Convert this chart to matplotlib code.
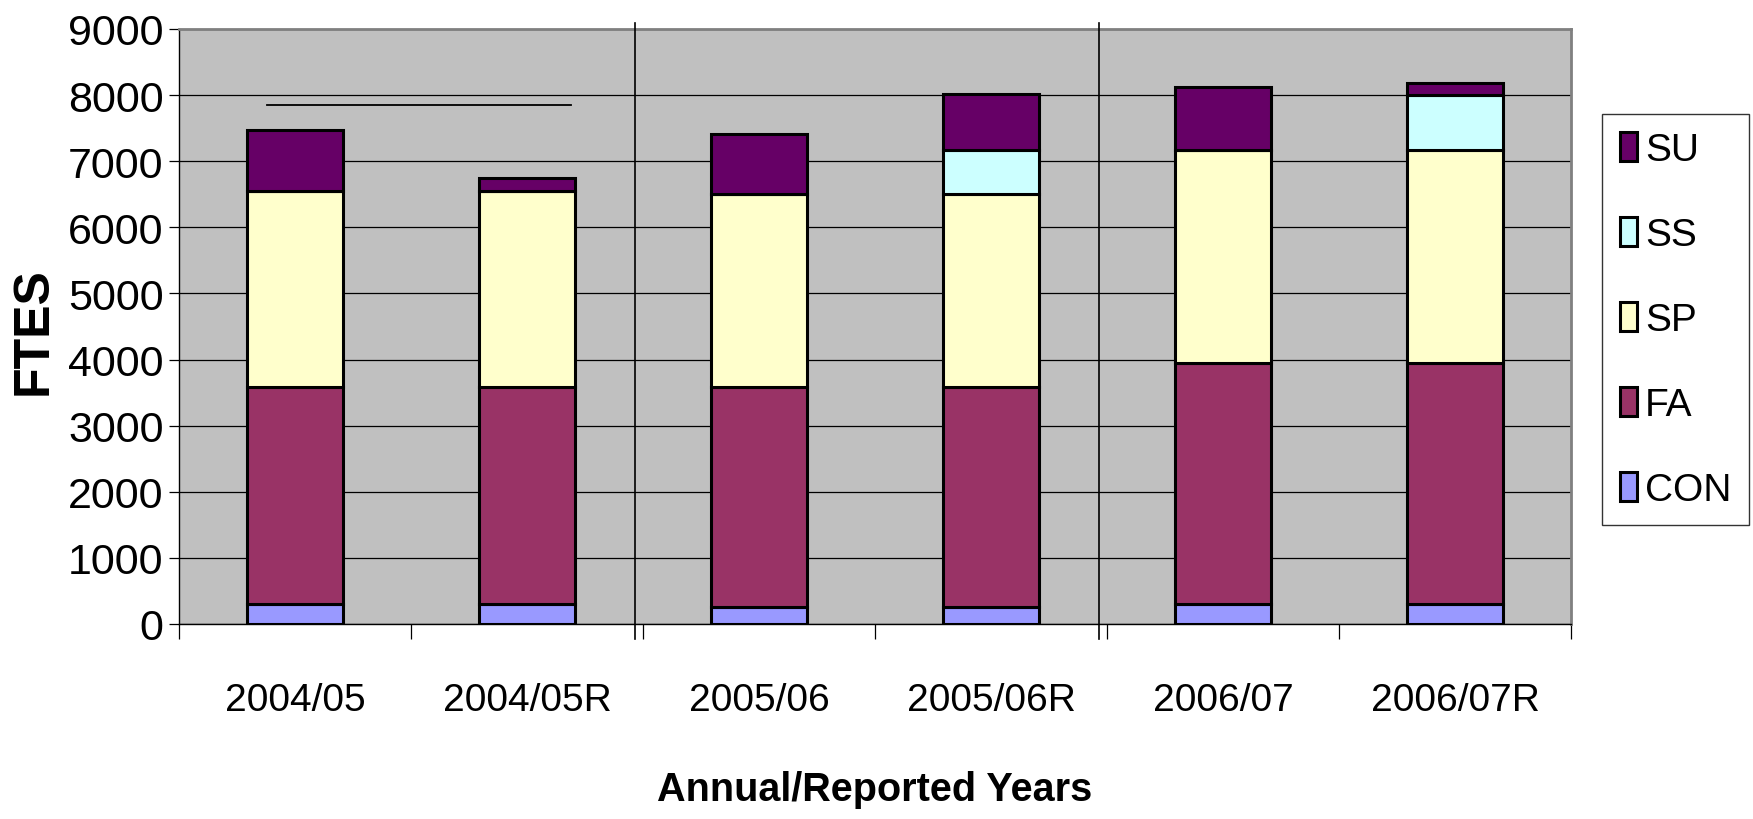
import matplotlib
matplotlib.use('Agg')
import matplotlib.pyplot as plt
import numpy as np

categories = ['2004/05', '2004/05R', '2005/06', '2005/06R', '2006/07', '2006/07R']
con = [300, 300, 250, 250, 300, 300]
fa = [3280, 3280, 3330, 3330, 3650, 3650]
sp = [2970, 2970, 2925, 2925, 3225, 3225]
ss = [0, 0, 0, 670, 0, 825]
su = [925, 195, 900, 835, 950, 180]

series = [('CON', con, '#9999FF'), ('FA', fa, '#993366'), ('SP', sp, '#FFFFCC'),
          ('SS', ss, '#CCFFFF'), ('SU', su, '#660066')]

plt.rcParams['font.family'] = ['Liberation Sans', 'DejaVu Sans']

W, H = 1753, 820
fig = plt.figure(figsize=(W / 100, H / 100), dpi=100)
ax = fig.add_axes([179 / W, 1 - 625 / H, (1571 - 179) / W, (625 - 30) / H])
ax.set_facecolor('#C0C0C0')

x = np.arange(len(categories))
bottom = np.zeros(len(categories))
handles = {}
for name, vals, col in series:
    b = ax.bar(x, vals, 0.41, bottom=bottom, color=col, edgecolor='black',
               linewidth=2.2, label=name, zorder=3)
    handles[name] = b
    bottom += np.array(vals)

ax.set_xlim(-0.5, len(categories) - 0.5)
ax.set_ylim(0, 9000)
ax.set_yticks(np.arange(0, 9001, 1000))
ax.yaxis.grid(True, color='black', linewidth=0.9, zorder=1)
ax.set_axisbelow(True)

ax.set_xticks(x)
ax.set_xticklabels(categories, fontsize=28)
ax.set_xticks(np.arange(-0.5, len(categories), 1), minor=True)
ax.tick_params(axis='x', which='major', length=0, pad=42)
ax.tick_params(axis='x', which='minor', length=11, width=0.9, direction='out')
ax.tick_params(axis='y', labelsize=31, length=7, width=0.9, pad=4)

for s in ['top', 'right']:
    ax.spines[s].set_color('#808080')
    ax.spines[s].set_linewidth(2)
for s in ['left', 'bottom']:
    ax.spines[s].set_color('black')
    ax.spines[s].set_linewidth(1)

# divider lines between year groups and the reference line
for xv in [1.466, 3.466]:
    ax.axvline(xv, ymin=-0.025, ymax=1.01, color='black', linewidth=1.2,
               clip_on=False, zorder=4)
ax.plot([-0.12, 1.19], [7850, 7850], color='black', linewidth=1.3, zorder=4)

fig.text(875 / W, 1 - 790 / H, 'Annual/Reported Years', fontweight='bold',
         fontsize=28.5, ha='center', va='center')
fig.text(34 / W, 1 - 331 / H, 'FTES', fontweight='bold',
         fontsize=36, rotation=90, ha='center', va='center')

order = ['SU', 'SS', 'SP', 'FA', 'CON']
leg = fig.legend([handles[n] for n in order], order, loc='upper left',
                 bbox_to_anchor=(1602 / W, 1 - 115 / H), borderaxespad=0,
                 prop={'size': 28}, frameon=True,
                 fancybox=False, edgecolor='black', handlelength=0.45,
                 handleheight=0.8, handletextpad=0.2, labelspacing=1.25,
                 borderpad=0.45)
leg.get_frame().set_linewidth(1)

fig.savefig('out.png', dpi=100)
